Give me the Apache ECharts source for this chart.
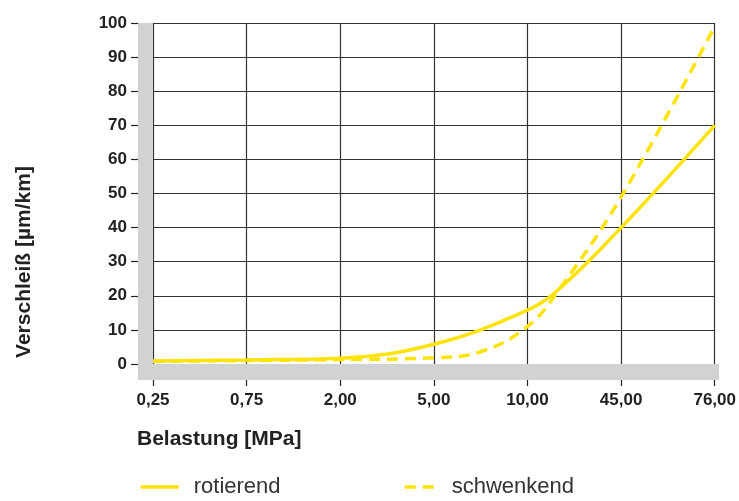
<!DOCTYPE html>
<html>
<head>
<meta charset="utf-8">
<script src="https://cdn.jsdelivr.net/npm/echarts@6/dist/echarts.min.js"></script>
<style>
  html, body { margin: 0; padding: 0; background: #ffffff; }
  #chart { width: 739px; height: 501px; }
</style>
</head>
<body>
<div id="chart"></div>
<script>
// ---- data ----
// x tick labels (equally spaced load steps, MPa)
const categories = ['0,25', '0,75', '2,00', '5,00', '10,00', '45,00', '76,00'];
// positions along the load axis, in tick steps (0 = "0,25", 6 = "76,00")
const rotierendPos = [0, 1, 2, 3, 4, 4.35, 5, 6];
const rotierend    = [0.9, 1.2, 1.7, 5.8, 15.8, 22.3, 40, 70];
const schwenkendPos = [0, 1, 2, 3, 3.5, 4, 4.35, 5, 6];
const schwenkend    = [0.8, 1.0, 1.3, 1.8, 3.6, 11.0, 22.3, 49, 99];
const yTicks = { min: 0, max: 100, interval: 10 };
const seriesNames = ['rotierend', 'schwenkend'];
const xTitle = 'Belastung [MPa]';
const yTitle = 'Verschleiß [µm/km]';

// extent of the gray frame axes (tick steps / value units)
const frameXMin = -0.16, frameXMax = 6.03;
const frameYMin = -4.7, frameYMax = 100;

const YELLOW = '#FCE30C';
const GRAY = '#D1D2D4';
const FONT = '"Liberation Sans", Arial, Helvetica, sans-serif';

const pairs = (xs, ys) => xs.map((x, i) => [x, ys[i]]);

const chart = echarts.init(document.getElementById('chart'), null, { renderer: 'canvas' });

const legendCommon = {
  top: 476, padding: 0, itemHeight: 20,
  itemStyle: { opacity: 0, borderWidth: 0 },
  lineStyle: { width: 3.5 },
  textStyle: { fontFamily: FONT, fontSize: 22, color: '#333', padding: [0, 0, 0, 10] }
};

const option = {
  animation: false,
  backgroundColor: '#ffffff',
  grid: [
    { left: 153, right: 23, top: 23, bottom: 137, containLabel: false },
    { left: 138, right: 20, top: 23, bottom: 121, containLabel: false }
  ],
  xAxis: [
    {
      type: 'value',
      gridIndex: 0,
      position: 'bottom',
      min: 0,
      max: categories.length - 1,
      interval: 1,
      offset: 15,
      axisLine: { show: false, onZero: false },
      axisTick: { show: true, length: 7, lineStyle: { color: '#222', width: 1.2 } },
      axisLabel: {
        margin: 13, fontFamily: FONT, fontSize: 17, fontWeight: 'bold', color: '#222',
        formatter: (v) => categories[Math.round(v)] || ''
      },
      splitLine: { show: true, lineStyle: { color: '#333', width: 1.2 } }
    },
    { type: 'value', gridIndex: 1, min: frameXMin, max: frameXMax, show: false }
  ],
  yAxis: [
    {
      type: 'value',
      gridIndex: 0,
      position: 'left',
      min: yTicks.min,
      max: yTicks.max,
      interval: yTicks.interval,
      offset: 15,
      axisLine: { show: false, onZero: false },
      axisTick: { show: true, length: 7, lineStyle: { color: '#222', width: 1.2 } },
      axisLabel: { margin: 11, fontFamily: FONT, fontSize: 17, fontWeight: 'bold', color: '#222' },
      splitLine: { show: true, lineStyle: { color: '#333', width: 1.2 } }
    },
    { type: 'value', gridIndex: 1, min: frameYMin, max: frameYMax, show: false }
  ],
  legend: [
    Object.assign({}, legendCommon, { left: 139, itemWidth: 38, data: [seriesNames[0]] }),
    Object.assign({}, legendCommon, { left: 403, itemWidth: 32, data: [seriesNames[1]] })
  ],
  graphic: [
    {
      type: 'text',
      x: 24, y: 262,
      rotation: Math.PI / 2,
      style: { text: yTitle, font: 'bold 21px ' + FONT, fill: '#222', align: 'center', verticalAlign: 'middle' }
    },
    {
      type: 'text',
      left: 137, top: 429,
      style: { text: xTitle, font: 'bold 21px ' + FONT, fill: '#222' }
    }
  ],
  series: [
    {
      name: 'frame',
      type: 'line',
      xAxisIndex: 1,
      yAxisIndex: 1,
      data: [],
      silent: true,
      markArea: {
        silent: true,
        itemStyle: { color: GRAY, opacity: 1 },
        label: { show: false },
        data: [
          [{ xAxis: frameXMin, yAxis: frameYMin }, { xAxis: 0, yAxis: frameYMax }],
          [{ xAxis: frameXMin, yAxis: frameYMin }, { xAxis: frameXMax, yAxis: 0 }]
        ]
      }
    },
    {
      name: seriesNames[0],
      type: 'line',
      xAxisIndex: 0, yAxisIndex: 0,
      data: pairs(rotierendPos, rotierend),
      smooth: 0.4,
      symbol: 'none',
      lineStyle: { color: YELLOW, width: 3.5 },
      itemStyle: { color: YELLOW },
      z: 5
    },
    {
      name: seriesNames[1],
      type: 'line',
      xAxisIndex: 0, yAxisIndex: 0,
      data: pairs(schwenkendPos, schwenkend),
      smooth: 0.4,
      symbol: 'none',
      lineStyle: { color: YELLOW, width: 3.5, type: [11, 7] },
      itemStyle: { color: YELLOW },
      z: 5
    }
  ]
};

chart.setOption(option);
</script>
</body>
</html>
